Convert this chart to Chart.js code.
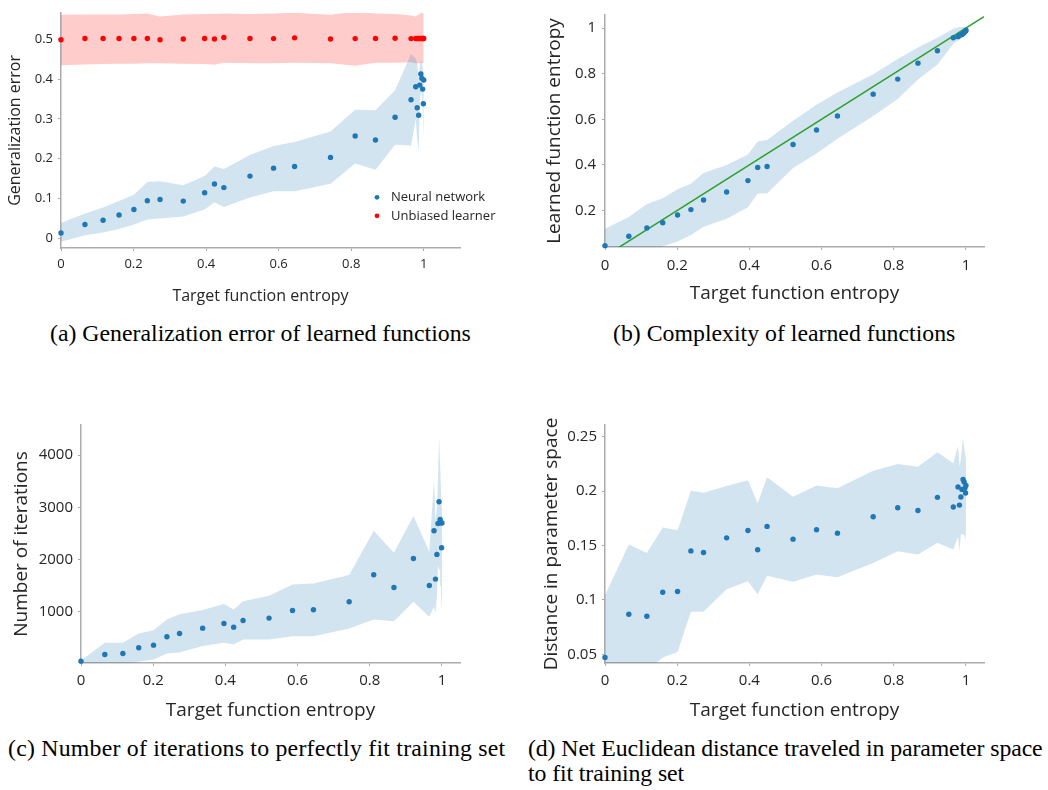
<!DOCTYPE html>
<html>
<head>
<meta charset="utf-8">
<script src="https://cdn.jsdelivr.net/npm/chart.js@4.4.1/dist/chart.umd.min.js"></script>
<style>
  html, body { margin: 0; padding: 0; background: #fff; }
  #fig { position: relative; width: 1048px; height: 790px; overflow: hidden; }
  #fig canvas { position: absolute; }
  .cap { position: absolute; font-family: 'Liberation Serif', 'Times New Roman', serif; font-size: 23.8px; line-height: 25px; color: #000; white-space: nowrap; }
</style>
</head>
<body>
<div id="fig">
  <canvas id="chartA" width="520" height="310" style="left:0;top:0"></canvas>
  <canvas id="chartB" width="518" height="310" style="left:530px;top:0"></canvas>
  <canvas id="chartC" width="470" height="320" style="left:0;top:410px"></canvas>
  <canvas id="chartD" width="518" height="320" style="left:530px;top:410px"></canvas>
  <div class="cap" style="left:50px;top:321px">(a) Generalization error of learned functions</div>
  <div class="cap" style="left:613px;top:321px">(b) Complexity of learned functions</div>
  <div class="cap" style="left:8px;top:736px;letter-spacing:0.23px">(c) Number of iterations to perfectly fit training set</div>
  <div class="cap" style="left:528px;top:736px;letter-spacing:-0.1px">(d) Net Euclidean distance traveled in parameter space<br>to fit training set</div>
</div>
<script>
// target function entropy (shared x values)
const entropy = [0, 0.066, 0.116, 0.160, 0.201, 0.238, 0.273, 0.337, 0.396, 0.423, 0.449, 0.521, 0.586, 0.644,
  0.743, 0.811, 0.867, 0.921, 0.965, 0.978, 0.982, 0.986, 0.989, 0.992, 0.995, 0.997, 0.999, 1.0];

// (a) generalization error
const genErrNN = [0.013, 0.034, 0.045, 0.058, 0.072, 0.094, 0.097, 0.093, 0.114, 0.136, 0.127, 0.156, 0.176, 0.180,
  0.203, 0.257, 0.247, 0.304, 0.348, 0.381, 0.328, 0.309, 0.385, 0.413, 0.402, 0.375, 0.338, 0.398];
const genErrNNLow = [-0.009, 0.007, 0.014, 0.023, 0.034, 0.047, 0.049, 0.054, 0.072, 0.090, 0.078, 0.102, 0.118, 0.118,
  0.137, 0.188, 0.172, 0.235, 0.233, 0.30, 0.25, 0.22, 0.33, 0.37, 0.36, 0.32, 0.27, 0.26];
const genErrNNHigh = [0.038, 0.062, 0.077, 0.093, 0.109, 0.141, 0.143, 0.133, 0.156, 0.180, 0.174, 0.209, 0.232, 0.242,
  0.268, 0.323, 0.322, 0.372, 0.463, 0.452, 0.44, 0.40, 0.43, 0.45, 0.44, 0.43, 0.42, 0.44];
const genErrUnb = [0.499, 0.5025, 0.5025, 0.5025, 0.5025, 0.5025, 0.499, 0.501, 0.5025, 0.501, 0.505, 0.5025, 0.502, 0.504,
  0.501, 0.502, 0.5025, 0.503, 0.502, 0.5025, 0.5025, 0.5025, 0.5025, 0.5025, 0.5025, 0.5025, 0.5025, 0.5025];
const genErrUnbLow = [0.435, 0.437, 0.438, 0.439, 0.439, 0.440, 0.440, 0.439, 0.438, 0.436, 0.441, 0.440, 0.440, 0.441,
  0.440, 0.434, 0.441, 0.441, 0.4425, 0.440, 0.440, 0.440, 0.440, 0.440, 0.440, 0.440, 0.440, 0.440];
const genErrUnbHigh = [0.562, 0.563, 0.563, 0.563, 0.564, 0.565, 0.558, 0.563, 0.564, 0.564, 0.565, 0.564, 0.565, 0.567,
  0.562, 0.570, 0.565, 0.564, 0.560, 0.558, 0.561, 0.563, 0.565, 0.566, 0.567, 0.566, 0.567, 0.568];

// (b) learned function entropy
const learnedEnt = [0.046, 0.087, 0.123, 0.146, 0.180, 0.204, 0.246, 0.281, 0.331, 0.389, 0.393, 0.489, 0.553, 0.614,
  0.710, 0.776, 0.846, 0.900, 0.957, 0.962, 0.968, 0.970, 0.972, 0.976, 0.980, 0.984, 0.987, 0.990];
const learnedEntLow = [-0.05, -0.02, 0.01, 0.043, 0.064, 0.093, 0.129, 0.164, 0.214, 0.274, 0.274, 0.386, 0.450, 0.514,
  0.614, 0.689, 0.774, 0.840, 0.931, 0.945, 0.950, 0.953, 0.956, 0.960, 0.965, 0.968, 0.972, 0.975];
const learnedEntHigh = [0.120, 0.171, 0.229, 0.254, 0.293, 0.317, 0.364, 0.400, 0.446, 0.503, 0.509, 0.593, 0.664, 0.717,
  0.797, 0.864, 0.914, 0.957, 0.997, 1.003, 1.004, 1.004, 1.004, 1.004, 1.004, 1.003, 1.002, 1.000];
const diagonal = [0, 1.05];

// (c) number of iterations
const iterations = [55, 183, 202, 311, 362, 521, 585, 687, 776, 706, 834, 879, 1026, 1038,
  1191, 1708, 1466, 2021, 1504, 2551, 1626, 2098, 2691, 3106, 2768, 2704, 2226, 2698];
const iterationsLow = [40, -100, 0, 43, 87, 202, 221, 343, 406, 375, 470, 470, 534, 534,
  681, 853, 821, 1191, 904, 1096, 968, 1300, 1900, 1800, 1800, 1500, 1000, 1300];
const iterationsHigh = [70, 406, 406, 585, 649, 853, 955, 1032, 1147, 1045, 1204, 1306, 1523, 1543,
  1702, 2551, 2130, 2832, 2149, 3521, 2755, 3000, 3500, 4350, 3800, 3400, 3000, 3100];

// (d) distance in parameter space
const distance = [0.047, 0.0868, 0.085, 0.107, 0.1077, 0.145, 0.1436, 0.157, 0.1638, 0.146, 0.1675, 0.1558, 0.1644, 0.1613,
  0.1764, 0.1847, 0.1822, 0.1942, 0.1853, 0.2037, 0.1871, 0.1945, 0.2015, 0.2107, 0.2083, 0.2025, 0.1982, 0.2052];
const distanceLow = [0.0, 0.02, 0.035, 0.047, 0.052, 0.089, 0.089, 0.1098, 0.1172, 0.1052, 0.1221, 0.1166, 0.1233, 0.1209,
  0.134, 0.1448, 0.1417, 0.1525, 0.1463, 0.158, 0.145, 0.160, 0.160, 0.160, 0.160, 0.158, 0.160, 0.155];
const distanceHigh = [0.1043, 0.151, 0.143, 0.1666, 0.164, 0.2003, 0.1985, 0.2046, 0.210, 0.1887, 0.2126, 0.1948, 0.2052, 0.2025,
  0.2187, 0.2248, 0.2224, 0.2356, 0.2255, 0.2414, 0.222, 0.230, 0.240, 0.248, 0.240, 0.235, 0.232, 0.230];

// tick labels
const entropyTicks = [0, 0.2, 0.4, 0.6, 0.8, 1];
const genErrTicks = [0, 0.1, 0.2, 0.3, 0.4, 0.5];
const learnedTicks = [0.2, 0.4, 0.6, 0.8, 1];
const iterTicks = [1000, 2000, 3000, 4000];
const distTicks = [0.05, 0.1, 0.15, 0.2, 0.25];

const family = "'Open Sans', 'Noto Sans', sans-serif";
const textColor = '#262626';
const axisGray = '#ababab';
const blue = '#1f77b4';
const red = '#ff0000';
const blueFill = 'rgba(31,119,180,0.2)';
const redFill = 'rgba(255,0,0,0.2)';

const fmt = v => String(Math.round(v * 1000) / 1000);
const pts = ys => entropy.map((x, i) => ({ x: x, y: ys[i] }));

function bandSets(lo, hi, color) {
  return [
    { data: pts(hi), borderColor: 'rgba(0,0,0,0)', borderWidth: 0, pointRadius: 0, fill: '+1', backgroundColor: color, order: 3 },
    { data: pts(lo), borderColor: 'rgba(0,0,0,0)', borderWidth: 0, pointRadius: 0, fill: false, order: 3 }
  ];
}

function dots(ys, color, label) {
  return { label: label, data: pts(ys), showLine: false, pointRadius: 2.7, pointHoverRadius: 2.7,
    pointBackgroundColor: color, pointBorderWidth: 0, borderColor: color, clip: false, order: 0 };
}

// legend drawn inside the plot area, as in the original figure
const insideLegend = {
  id: 'insideLegend',
  afterDraw(chart, args, opts) {
    if (!opts.show) return;
    const { ctx, chartArea } = chart;
    const items = chart.data.datasets.filter(d => d.label);
    ctx.save();
    ctx.font = '13px ' + family;
    ctx.textBaseline = 'middle';
    items.forEach((d, i) => {
      const y = chartArea.top + opts.top + i * opts.step;
      const x = chartArea.left + opts.left;
      ctx.fillStyle = d.pointBackgroundColor;
      ctx.beginPath();
      ctx.arc(x, y, 2.4, 0, Math.PI * 2);
      ctx.fill();
      ctx.fillStyle = textColor;
      ctx.fillText(d.label, x + 14, y);
    });
    ctx.restore();
  }
};

function makePanel(id, datasets, o) {
  const tickFont = { family: family, size: o.tickSize };
  const titleFont = { family: family, size: o.titleSize };
  const grid = { display: true, drawOnChartArea: false, drawTicks: true, tickLength: 3, color: axisGray };
  const border = { display: true, color: axisGray, width: 1.5 };
  return new Chart(document.getElementById(id), {
    type: 'line',
    data: { datasets: datasets },
    plugins: [insideLegend],
    options: {
      responsive: false,
      animation: false,
      devicePixelRatio: 1,
      layout: { padding: o.padding },
      plugins: {
        legend: { display: false },
        tooltip: { enabled: false },
        insideLegend: o.legend || { show: false }
      },
      scales: {
        x: {
          type: 'linear', min: 0, max: o.xMax,
          afterBuildTicks: s => { s.ticks = entropyTicks.map(v => ({ value: v })); },
          afterFit: s => { s.height = o.xH; },
          ticks: { callback: v => fmt(v), font: tickFont, color: textColor, padding: o.xPad, maxRotation: 0 },
          grid: grid, border: border,
          title: { display: true, text: 'Target function entropy', font: titleFont, color: textColor,
            padding: { top: 0, bottom: o.xTitlePad } }
        },
        y: {
          type: 'linear', min: o.yMin, max: o.yMax,
          afterBuildTicks: s => { s.ticks = o.yTicks.map(v => ({ value: v })); },
          afterFit: s => { s.width = o.yW; },
          ticks: { callback: v => fmt(v), font: tickFont, color: textColor, padding: o.yPad },
          grid: grid, border: border,
          title: { display: true, text: o.yTitle, font: titleFont, color: textColor,
            padding: { top: o.yTitlePad, bottom: 0 } }
        }
      }
    }
  });
}

// (a)
makePanel('chartA', [
  dots(genErrNN, blue, 'Neural network'),
  dots(genErrUnb, red, 'Unbiased learner'),
  ...bandSets(genErrNNLow, genErrNNHigh, blueFill),
  ...bandSets(genErrUnbLow, genErrUnbHigh, redFill)
], {
  padding: { left: 0, top: 11, right: 60, bottom: 0 },
  xMax: 1.1, yMin: -0.025, yMax: 0.567, yTicks: genErrTicks,
  xH: 62, yW: 61, tickSize: 13, titleSize: 16,
  xPad: 5, yPad: 5, xTitlePad: 4, yTitlePad: 6,
  yTitle: 'Generalization error',
  legend: { show: true, left: 316, top: 184.5, step: 18.5 }
});

// (b)
makePanel('chartB', [
  dots(learnedEnt, blue),
  { data: diagonal.map(v => ({ x: v, y: v })), borderColor: '#2ca02c', borderWidth: 1.5, pointRadius: 0, fill: false, order: 1 },
  ...bandSets(learnedEntLow, learnedEntHigh, blueFill)
], {
  padding: { left: 0, top: 10, right: 64, bottom: 0 },
  xMax: 1.05, yMin: 0.04, yMax: 1.057, yTicks: learnedTicks,
  xH: 63, yW: 75, tickSize: 15, titleSize: 19,
  xPad: 7, yPad: 6, xTitlePad: 5, yTitlePad: 13,
  yTitle: 'Learned function entropy'
});

// (c)
makePanel('chartC', [
  dots(iterations, blue),
  ...bandSets(iterationsLow, iterationsHigh, blueFill)
], {
  padding: { left: 0, top: 15, right: 10, bottom: 0 },
  xMax: 1.05, yMin: 20, yMax: 4575, yTicks: iterTicks,
  xH: 67, yW: 81, tickSize: 15, titleSize: 19,
  xPad: 6, yPad: 5, xTitlePad: 8, yTitlePad: 10,
  yTitle: 'Number of iterations'
});

// (d)
makePanel('chartD', [
  dots(distance, blue),
  ...bandSets(distanceLow, distanceHigh, blueFill)
], {
  padding: { left: 0, top: 15, right: 64, bottom: 0 },
  xMax: 1.05, yMin: 0.042, yMax: 0.2607, yTicks: distTicks,
  xH: 67, yW: 75, tickSize: 15, titleSize: 19,
  xPad: 6, yPad: 5, xTitlePad: 8, yTitlePad: 10,
  yTitle: 'Distance in parameter space'
});
</script>
</body>
</html>
